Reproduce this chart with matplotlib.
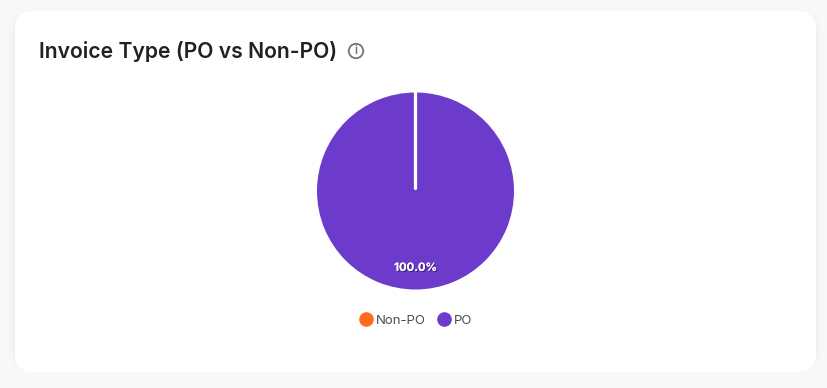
import matplotlib
matplotlib.use('Agg')
import matplotlib.pyplot as plt
import matplotlib.patheffects as pe
import numpy as np
from matplotlib.lines import Line2D
from matplotlib.patches import Circle, FancyBboxPatch

title = 'Invoice Type (PO vs Non-PO)'
categories = ['Non-PO', 'PO']
values = [0, 100]
colors = ['#FF6A21', '#6C3BCB']

W, H = 828, 388


def pct_label(pct):
    return f'{pct:.1f}%' if pct > 0 else ''


def draw_card(bg):
    # soft shadow first, then the white card on top
    for grow, alpha in [(6, 0.006), (4, 0.008), (2, 0.012), (1, 0.015)]:
        bg.add_patch(FancyBboxPatch((15 - grow, 17 - grow), 801 + 2 * grow, 355 + 2 * grow - 6,
                                    boxstyle=f'round,pad=0,rounding_size={18 + grow}',
                                    lw=0, fc='black', alpha=alpha))
    bg.add_patch(FancyBboxPatch((15, 11), 801, 361, boxstyle='round,pad=0,rounding_size=18',
                                lw=0, fc='white'))


def main():
    plt.rcParams['font.family'] = ['Inter', 'DejaVu Sans']
    fig = plt.figure(figsize=(W / 100, H / 100), dpi=100, facecolor='#F8F8F8')

    bg = fig.add_axes([0, 0, 1, 1])
    bg.set_xlim(0, W)
    bg.set_ylim(H, 0)
    bg.axis('off')
    draw_card(bg)

    bg.text(39, 52, title, fontsize=15.2, fontweight=600, color='#212121', va='center', ha='left')

    # info icon
    bg.add_patch(Circle((356, 51), 7.2, fc='none', ec='#757575', lw=1.3))
    bg.text(356, 51.5, 'i', fontsize=8.5, color='#757575', ha='center', va='center', fontweight=600)

    cx, cy, r = 415.5, 191, 98.5
    ax = fig.add_axes([(cx - r) / W, 1 - (cy + r) / H, 2 * r / W, 2 * r / H])
    wedges, _, autotexts = ax.pie(values, colors=colors, startangle=90, counterclock=False,
                                  radius=1, autopct=pct_label, pctdistance=0.78)
    ax.set_xlim(-1, 1)
    ax.set_ylim(-1, 1)

    # a full circle wedge has no radial edge, so draw the seam at the zero slice
    angle = np.deg2rad(wedges[0].theta1)
    ax.plot([0.03 * np.cos(angle), 1.02 * np.cos(angle)], [0.03 * np.sin(angle), 1.02 * np.sin(angle)],
            color='white', lw=2.3, solid_capstyle='round', clip_on=False)

    for t in autotexts:
        t.set_color('white')
        t.set_fontsize(8.1)
        t.set_fontweight('bold')
        t.set_path_effects([pe.withSimplePatchShadow(offset=(0.8, -0.8), shadow_rgbFace='#24124f', alpha=0.7),
                            pe.Normal()])

    handles = [Line2D([], [], ls='none', marker='o', ms=9.5, mfc=c, mec=c) for c in colors]
    fig.legend(handles, categories, ncol=2, frameon=False, fontsize=9.5, labelcolor='#4d4d4d',
               loc='center', bbox_to_anchor=(416 / W, 1 - 320.5 / H), handlelength=1.0,
               handletextpad=0.25, columnspacing=0.85, borderpad=0)

    fig.savefig('out.png', dpi=100, facecolor=fig.get_facecolor())


if __name__ == '__main__':
    main()
